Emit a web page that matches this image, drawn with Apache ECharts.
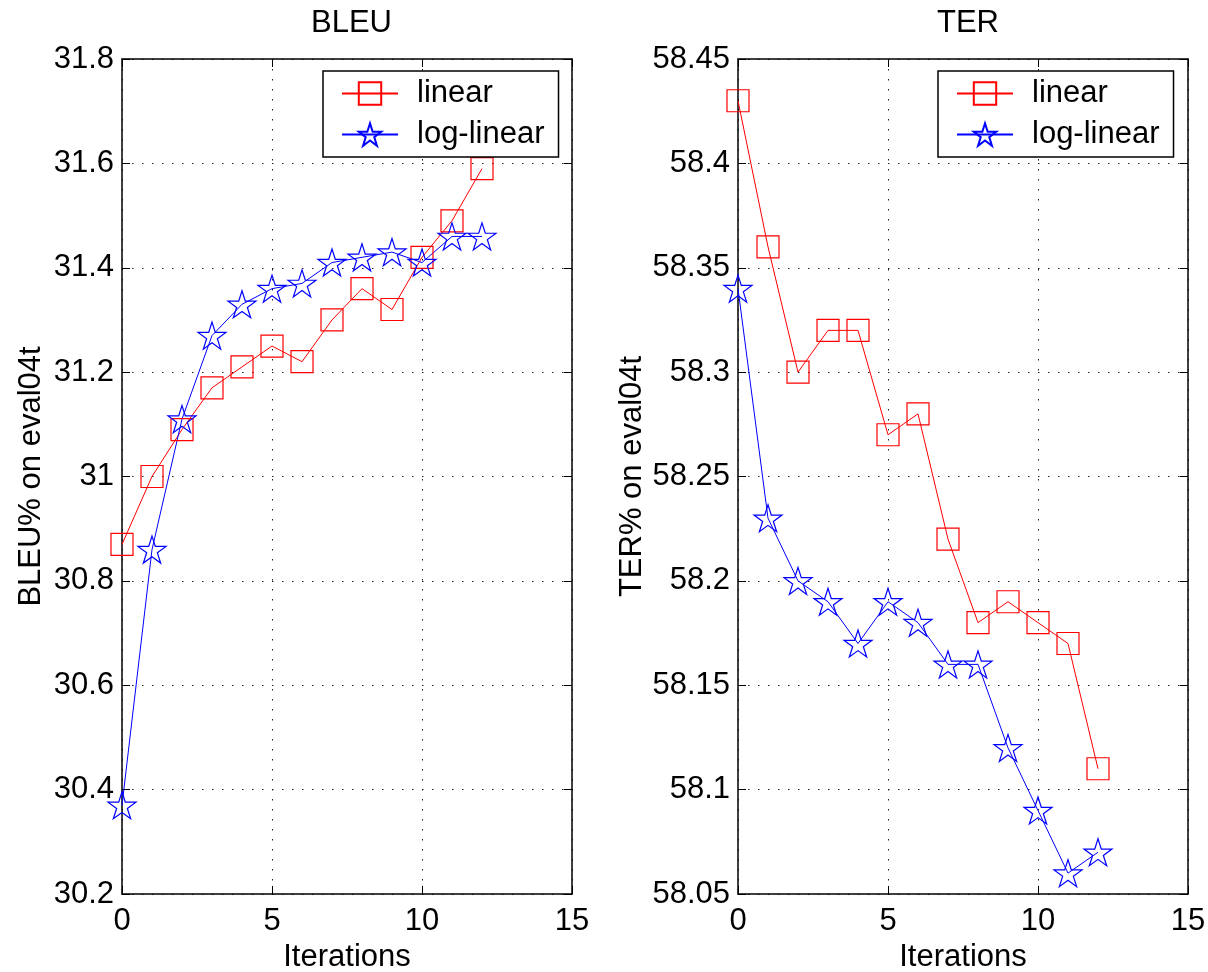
<!DOCTYPE html>
<html>
<head>
<meta charset="utf-8">
<script src="https://cdn.jsdelivr.net/npm/echarts@6/dist/echarts.min.js"></script>
<style>
html,body{margin:0;padding:0;background:#fff;}
#chart{width:1208px;height:972px;}
</style>
</head>
<body>
<div id="chart"></div>
<script>
const iterations = [0,1,2,3,4,5,6,7,8,9,10,11,12];
const bleuLinear    = [30.87,31.00,31.09,31.17,31.21,31.25,31.22,31.30,31.36,31.32,31.42,31.49,31.59];
const bleuLogLinear = [30.37,30.86,31.11,31.27,31.33,31.36,31.37,31.41,31.42,31.43,31.41,31.46,31.46];
const terLinear     = [58.43,58.36,58.30,58.32,58.32,58.27,58.28,58.22,58.18,58.19,58.18,58.17,58.11];
const terLogLinear  = [58.34,58.23,58.20,58.19,58.17,58.19,58.18,58.16,58.16,58.12,58.09,58.06,58.07];
const seriesNames = ['linear','log-linear'];
const panelTitles = ['BLEU','TER'];
const yNames = ['BLEU% on eval04t','TER% on eval04t'];
const xName = 'Iterations';

const FONT = '"Liberation Sans", Arial, Helvetica, sans-serif';
const FS = 31;
const starPath = 'path://M0,-1 L0.2245,-0.309 L0.951,-0.309 L0.363,0.118 L0.588,0.809 L0,0.382 L-0.588,0.809 L-0.363,0.118 L-0.951,-0.309 L-0.2245,-0.309 Z';

function pairs(ys){ return iterations.map((x,i)=>[x, ys[i]]); }

const grids = [
  {left:122, top:59, width:450, height:835, containLabel:false, outerBoundsMode:'none'},
  {left:738, top:59, width:450, height:835, containLabel:false, outerBoundsMode:'none'}
];

function xAxes(gi){
  return [
    {gridIndex:gi, type:'value', min:0, max:15, interval:5, position:'bottom',
     name:xName, nameLocation:'middle', nameGap:46,
     nameTextStyle:{fontFamily:FONT, fontSize:FS, color:'#000'},
     axisLine:{show:true, onZero:false, lineStyle:{color:'#000', width:1.5}},
     axisTick:{show:true, inside:true, length:8, lineStyle:{color:'#000', width:1}},
     axisLabel:{fontFamily:FONT, fontSize:FS, color:'#000', margin:12},
     splitLine:{show:true, lineStyle:{color:'#222', width:1, type:[1.5,8.5]}}},
    {gridIndex:gi, type:'value', min:0, max:15, interval:5, position:'top',
     axisLine:{show:true, onZero:false, lineStyle:{color:'#000', width:1.5}},
     axisTick:{show:true, inside:true, length:8, lineStyle:{color:'#000', width:1}},
     axisLabel:{show:false}, splitLine:{show:false}}
  ];
}
function yAxes(gi, min, max, interval, nameGap){
  return [
    {gridIndex:gi, type:'value', min:min, max:max, interval:interval, position:'left',
     name:yNames[gi], nameLocation:'middle', nameGap:nameGap,
     nameTextStyle:{fontFamily:FONT, fontSize:FS, color:'#000'},
     axisLine:{show:true, onZero:false, lineStyle:{color:'#000', width:1.5}},
     axisTick:{show:true, inside:true, length:8, lineStyle:{color:'#000', width:1}},
     axisLabel:{fontFamily:FONT, fontSize:FS, color:'#000', margin:8},
     splitLine:{show:true, lineStyle:{color:'#222', width:1, type:[1.5,8.5]}}},
    {gridIndex:gi, type:'value', min:min, max:max, interval:interval, position:'right',
     axisLine:{show:true, onZero:false, lineStyle:{color:'#000', width:1.5}},
     axisTick:{show:true, inside:true, length:8, lineStyle:{color:'#000', width:1}},
     axisLabel:{show:false}, splitLine:{show:false}}
  ];
}

function mkSeries(name, data, xi, yi, color, symbol, size){
  return {
    name:name, type:'line', xAxisIndex:xi, yAxisIndex:yi, data:pairs(data),
    symbol:symbol, symbolSize:size, showAllSymbol:true,
    lineStyle:{color:color, width:1},
    itemStyle:{color:'rgba(255,255,255,0)', borderColor:color, borderWidth:1.2},
    emphasis:{disabled:true}, animation:false, z:3
  };
}

function mkLegend(left){
  return {
    left:left, top:71, orient:'vertical',
    data:seriesNames,
    itemWidth:56, itemHeight:28, itemGap:10,
    padding:[7,14,7,18],
    borderColor:'#000', borderWidth:1.5, backgroundColor:'#fff',
    textStyle:{fontFamily:FONT, fontSize:FS, color:'#000', padding:[0,0,0,14]},
    selectedMode:false
  };
}

const option = {
  backgroundColor:'#fff',
  animation:false,
  title:[
    {text:panelTitles[0], left:306, top:3, textStyle:{fontFamily:FONT, fontSize:FS, fontWeight:'normal', color:'#000'}},
    {text:panelTitles[1], left:932, top:3, textStyle:{fontFamily:FONT, fontSize:FS, fontWeight:'normal', color:'#000'}}
  ],
  legend:[mkLegend(323), mkLegend(938)],
  grid:grids,
  xAxis:[...xAxes(0), ...xAxes(1)],
  yAxis:[...yAxes(0, 30.2, 31.8, 0.2, 75), ...yAxes(1, 58.05, 58.45, 0.05, 90)],
  series:[
    mkSeries(seriesNames[0], bleuLinear, 0, 0, '#ff0000', 'rect', 22),
    mkSeries(seriesNames[1], bleuLogLinear, 0, 0, '#0000ff', starPath, [28,27]),
    mkSeries(seriesNames[0], terLinear, 2, 2, '#ff0000', 'rect', 22),
    mkSeries(seriesNames[1], terLogLinear, 2, 2, '#0000ff', starPath, [28,27])
  ]
};

const chart = echarts.init(document.getElementById('chart'), null, {renderer:'canvas'});
chart.setOption(option);
</script>
</body>
</html>
